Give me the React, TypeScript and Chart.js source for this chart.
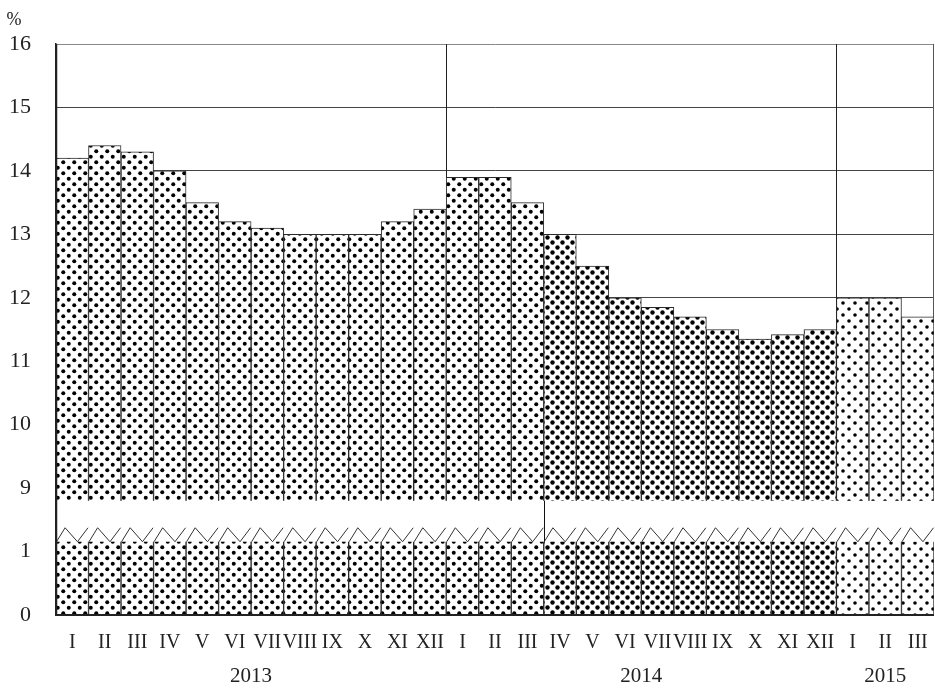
import React, { useEffect, useRef } from 'react';
import { Chart, registerables } from 'chart.js';

Chart.register(...registerables);

// ---- data ----
const monthLabels = [
  'I', 'II', 'III', 'IV', 'V', 'VI', 'VII', 'VIII', 'IX', 'X', 'XI', 'XII',
  'I', 'II', 'III', 'IV', 'V', 'VI', 'VII', 'VIII', 'IX', 'X', 'XI', 'XII',
  'I', 'II', 'III',
];
const years = ['2013', '2014', '2015'];
const monthsPerYear = [12, 12, 3];
const rate2013 = [14.2, 14.4, 14.3, 14.0, 13.5, 13.2, 13.1, 13.0, 13.0, 13.0, 13.2, 13.4];
const rate2014 = [13.9, 13.9, 13.5, 13.0, 12.5, 12.0, 11.85, 11.7, 11.5, 11.35, 11.42, 11.5];
const rate2015 = [12.0, 12.0, 11.7];
const yTickLabels = ['0', '1', '9', '10', '11', '12', '13', '14', '15', '16'];
const BREAK_OFFSET = 7; // values above the axis break are shown shifted by 7 units
const BREAK_SEPARATOR_INDEX = 15; // lower-section divider line before this bar

const FONT = "'Liberation Serif', 'DejaVu Serif', serif";

function dotPattern(size: number, r: number): CanvasPattern | string {
  const c = document.createElement('canvas');
  c.width = size;
  c.height = size;
  const g = c.getContext('2d');
  if (!g) return '#888';
  g.fillStyle = '#ffffff';
  g.fillRect(0, 0, size, size);
  g.fillStyle = '#000000';
  const pts = [
    [size / 4, size / 4],
    [(3 * size) / 4, (3 * size) / 4],
  ];
  for (const [px, py] of pts) {
    for (const dx of [-size, 0, size]) {
      for (const dy of [-size, 0, size]) {
        g.beginPath();
        g.arc(px + dx, py + dy, r, 0, Math.PI * 2);
        g.fill();
      }
    }
  }
  return g.createPattern(c, 'repeat') || '#888';
}

export default function App() {
  const canvasRef = useRef<HTMLCanvasElement | null>(null);

  useEffect(() => {
    document.body.style.margin = '0';
    const canvas = canvasRef.current;
    if (!canvas) return;

    const patA = dotPattern(11, 2.0);
    const patB = dotPattern(10, 2.2);
    const patC = dotPattern(12, 1.8);

    const realValues = [...rate2013, ...rate2014, ...rate2015];
    const displayValues = realValues.map((v) => v - BREAK_OFFSET);
    const fills = realValues.map((_, i) => (i < 15 ? patA : i < 24 ? patB : patC));

    const yearStarts: number[] = [];
    let acc = 0;
    for (const n of monthsPerYear) {
      yearStarts.push(acc);
      acc += n;
    }

    const breakTop = 1.8;
    const breakBottom = 1.155;
    const zigPeak = 1.375;

    const breakPlugin = {
      id: 'breakPlugin',
      beforeDatasetsDraw(chart: any) {
        const { ctx, chartArea } = chart;
        const meta = chart.getDatasetMeta(0);
        ctx.save();
        ctx.strokeStyle = '#222';
        ctx.lineWidth = 1;
        for (let k = 1; k < yearStarts.length; k++) {
          const bar = meta.data[yearStarts[k]];
          const x = Math.round(bar.x - bar.width / 2) + 0.5;
          ctx.beginPath();
          ctx.moveTo(x, chartArea.top);
          ctx.lineTo(x, chartArea.bottom);
          ctx.stroke();
        }
        ctx.beginPath();
        ctx.moveTo(chartArea.right - 0.5, chartArea.top);
        ctx.lineTo(chartArea.right - 0.5, chartArea.bottom);
        ctx.strokeStyle = '#555';
        ctx.stroke();
        ctx.restore();
      },
      afterDatasetsDraw(chart: any) {
        const { ctx, chartArea, scales } = chart;
        const y = scales.y;
        const meta = chart.getDatasetMeta(0);
        const yT = y.getPixelForValue(breakTop);
        const yB = y.getPixelForValue(breakBottom);
        const yP = y.getPixelForValue(zigPeak);
        ctx.save();
        ctx.fillStyle = '#ffffff';
        ctx.fillRect(chartArea.left, yT, chartArea.right - chartArea.left + 1, yB - yT);
        ctx.strokeStyle = '#333';
        ctx.lineWidth = 1;
        meta.data.forEach((bar: any) => {
          const l = bar.x - bar.width / 2;
          const w = bar.width;
          ctx.beginPath();
          ctx.moveTo(l + 0.5, yB);
          ctx.lineTo(l + w * 0.28, yP);
          ctx.lineTo(l + w * 0.66, yB);
          ctx.lineTo(l + w - 0.5, yP);
          ctx.stroke();
        });
        const sb = meta.data[BREAK_SEPARATOR_INDEX];
        const sx = Math.round(sb.x - sb.width / 2) + 0.5;
        ctx.strokeStyle = '#111';
        ctx.beginPath();
        ctx.moveTo(sx, yT);
        ctx.lineTo(sx, yB);
        ctx.stroke();
        ctx.strokeStyle = '#222';
        ctx.lineWidth = 1.5;
        ctx.beginPath();
        ctx.moveTo(chartArea.left + 0.5, chartArea.top);
        ctx.lineTo(chartArea.left + 0.5, chartArea.bottom);
        ctx.stroke();
        ctx.lineWidth = 2;
        ctx.beginPath();
        ctx.moveTo(chartArea.left, chartArea.bottom);
        ctx.lineTo(chartArea.right, chartArea.bottom);
        ctx.stroke();
        ctx.restore();
      },
      afterDraw(chart: any) {
        const { ctx } = chart;
        const meta = chart.getDatasetMeta(0);
        ctx.save();
        ctx.fillStyle = '#222';
        ctx.textAlign = 'center';
        ctx.textBaseline = 'middle';
        ctx.font = `21px ${FONT}`;
        years.forEach((yr, k) => {
          const first = meta.data[yearStarts[k]];
          const last = meta.data[yearStarts[k] + monthsPerYear[k] - 1];
          ctx.fillText(yr, (first.x + last.x) / 2, 676);
        });
        ctx.font = `18px ${FONT}`;
        ctx.fillText('%', 14, 20);
        ctx.restore();
      },
    };

    const chart = new Chart(canvas, {
      type: 'bar',
      data: {
        labels: monthLabels,
        datasets: [
          {
            data: displayValues,
            backgroundColor: fills as any,
            borderColor: '#2a2a2a',
            borderWidth: 1,
            barPercentage: 1,
            categoryPercentage: 1,
          },
        ],
      },
      options: {
        animation: false,
        responsive: false,
        maintainAspectRatio: false,
        layout: { padding: { top: 44, right: 1, left: 0, bottom: 0 } },
        plugins: {
          legend: { display: false },
          tooltip: { enabled: false },
        },
        scales: {
          x: {
            grid: { display: false, drawTicks: false },
            border: { display: false },
            ticks: {
              autoSkip: false,
              maxRotation: 0,
              minRotation: 0,
              padding: 16,
              color: '#222',
              font: { family: FONT, size: 20 },
            },
            afterFit(scale: any) {
              scale.height = 73;
              scale.paddingLeft = 0;
              scale.paddingRight = 0;
            },
          },
          y: {
            min: 0,
            max: 9,
            grid: {
              drawTicks: false,
              color: (c: any) => {
                const v = c.tick ? c.tick.value : 0;
                if (v === 9) return '#888';
                return v >= 3 ? '#444' : 'rgba(0,0,0,0)';
              },
              lineWidth: 1,
            },
            border: { display: true, color: '#222', width: 1.5 },
            ticks: {
              stepSize: 1,
              padding: 25,
              color: '#222',
              font: { family: FONT, size: 22 },
              callback: (value: any) => yTickLabels[Number(value)] ?? '',
            },
            afterFit(scale: any) {
              scale.width = 56;
              scale.paddingTop = 0;
              scale.paddingBottom = 0;
            },
          },
        },
      },
      plugins: [breakPlugin],
    });

    return () => {
      chart.destroy();
    };
  }, []);

  return (
    <div style={{ width: 935, height: 688, background: '#fff' }}>
      <canvas ref={canvasRef} width={935} height={688} style={{ display: 'block' }} />
    </div>
  );
}
